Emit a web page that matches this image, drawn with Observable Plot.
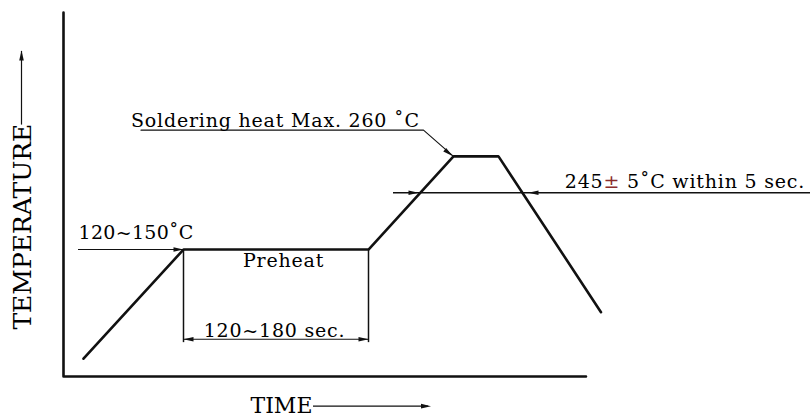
<!DOCTYPE html>
<html><head><meta charset="utf-8">
<script src="https://cdn.jsdelivr.net/npm/d3@7"></script>
<script src="https://cdn.jsdelivr.net/npm/@observablehq/plot@0.6"></script>
<style>body{margin:0;background:#fff} svg{display:block} .note text{letter-spacing:0.8px} .note0 text{letter-spacing:0.3px}</style>
</head><body><div id="chart"></div>
<script>
// Schematic reflow profile (time units ~ seconds, temperature units ~ °C, not to scale)
const profileTime = [8, 48, 122, 156, 174, 215];
const profileTemp = [21, 150, 150, 260, 260, 76];
const axisTimeMax = 209, axisTempMax = 430;
const preheatTimes = [48, 122];
const preheatTemp = 150;
const peakTime = 156, peakTemp = 260;
const dimTemp = 44, dimBottom = 40;
const solderLevel = 217;          // 245±5 °C line
const solderCross = [142, 186];   // arrow tips on the 245 line
const labelTexts = ["120~150˚C", "Soldering heat Max. 260 ˚C", "245± 5˚C within 5 sec.", "Preheat", "120~180 sec.", "TIME", "TEMPERATURE"];

const profile = profileTime.map((t, i) => ({t, T: profileTemp[i]}));
const frame = [{t: 0, T: axisTempMax}, {t: 0, T: 0}, {t: axisTimeMax, T: 0}];
const leaderSolder = [{t: 31, T: 291}, {t: 144, T: 291}, {t: peakTime, T: peakTemp}];

const arrowHead = {
  draw(ctx) {
    ctx.moveTo(0, 0);
    ctx.lineTo(-10, -2.3);
    ctx.lineTo(-10, 2.3);
    ctx.closePath();
  }
};
const timeArrowLevel = -35;
const arrows = [
  {t: preheatTimes[0], T: preheatTemp, a: 0},
  {t: preheatTimes[0], T: dimTemp, a: 180},
  {t: preheatTimes[1], T: dimTemp, a: 0},
  {t: solderCross[0], T: solderLevel, a: 0},
  {t: solderCross[1], T: solderLevel, a: 180},
  {t: peakTime - 0.4, T: peakTemp + 0.5, a: 39},
  {t: 147, T: timeArrowLevel, a: 0},
  {t: -16.8, T: 385, a: -90}
];

const ink = "#111";
const note = {textAnchor: "start", lineAnchor: "bottom", fontSize: 19, className: "note", text: d => d};
const chart = Plot.plot({
  width: 810, height: 418,
  margin: 0,
  style: {fontFamily: "DejaVu Serif", background: "#fff", color: "#000"},
  x: {domain: [0, 300], range: [63, 813], axis: null},
  y: {domain: [0, 430], range: [376, 12], axis: null},
  marks: [
    Plot.line(frame, {x: "t", y: "T", stroke: ink, strokeWidth: 2.6}),
    Plot.ruleX(preheatTimes, {x: d => d, y1: dimBottom, y2: preheatTemp, stroke: ink, strokeWidth: 1.5}),
    Plot.ruleY([dimTemp], {x1: preheatTimes[0], x2: preheatTimes[1], stroke: ink, strokeWidth: 1.2}),
    Plot.ruleY([preheatTemp], {x1: 6, x2: preheatTimes[0], stroke: ink, strokeWidth: 1.2}),
    Plot.line(leaderSolder, {x: "t", y: "T", stroke: ink, strokeWidth: 1.1}),
    Plot.ruleY([solderLevel], {x1: 132, x2: 300, stroke: ink, strokeWidth: 1.4}),
    Plot.ruleY([timeArrowLevel], {x1: 100, x2: 146, stroke: ink, strokeWidth: 1.2}),
    Plot.ruleX([-16.8], {y1: 297, y2: 384, stroke: ink, strokeWidth: 1.2}),
    Plot.line(profile, {x: "t", y: "T", stroke: ink, strokeWidth: 2.6, strokeLinejoin: "miter"}),
    Plot.dot(arrows, {x: "t", y: "T", rotate: "a", symbol: arrowHead, fill: ink, stroke: "none"}),
    Plot.text([labelTexts[0]], {...note, x: 6, y: 163, className: "note0"}),
    Plot.text([labelTexts[1]], {...note, x: 27, y: 295}),
    Plot.text([labelTexts[2]], {...note, x: 200.5, y: 223}),
    Plot.text([labelTexts[3]], {...note, x: 88, y: 129, textAnchor: "middle"}),
    Plot.text([labelTexts[4]], {...note, x: 84.4, y: 47, textAnchor: "middle"}),
    Plot.text([labelTexts[5]], {x: 74.8, y: -43, text: d => d, textAnchor: "start", lineAnchor: "bottom", fontSize: 22}),
    Plot.text([labelTexts[6]], {x: -16.2, y: 177, text: d => d, rotate: -90, textAnchor: "middle", lineAnchor: "middle", fontSize: 25})
  ]
});
document.getElementById("chart").appendChild(chart);

// colour the ± sign dark red, keeping it real text
d3.select(chart).selectAll("text").each(function() {
  const s = this.textContent;
  if (s.includes("±")) {
    const parts = s.split("±");
    const el = d3.select(this);
    el.text(null);
    el.append("tspan").text(parts[0]);
    el.append("tspan").attr("fill", "#8b2c2c").text("±");
    el.append("tspan").text(parts[1]);
  }
});
</script>
</body></html>
